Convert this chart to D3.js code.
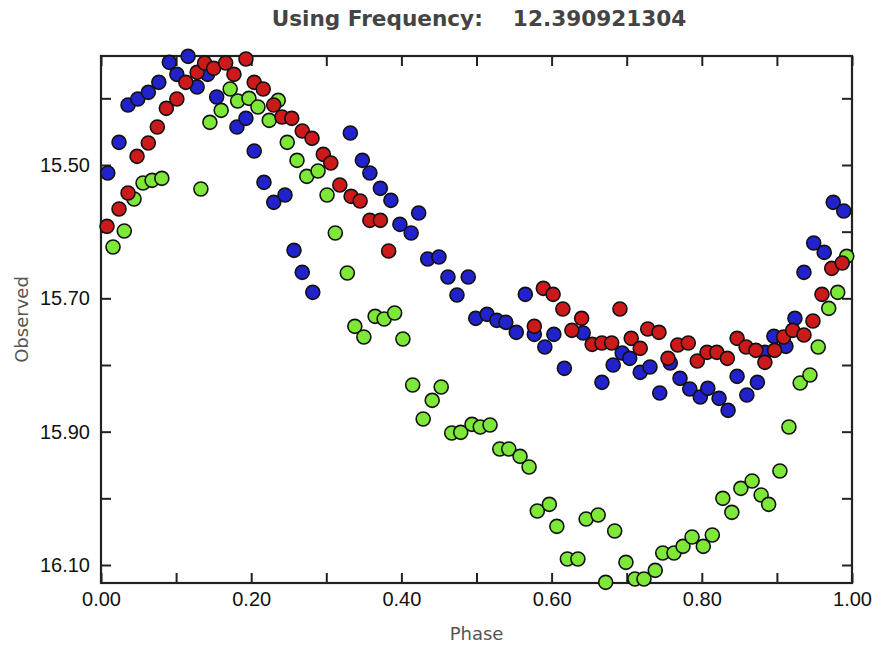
<!DOCTYPE html>
<html>
<head>
<meta charset="utf-8">
<script src="https://cdnjs.cloudflare.com/ajax/libs/d3/7.8.5/d3.min.js"></script>
<style>
  body { margin: 0; background: #fff; }
  svg { font-family: "DejaVu Sans", sans-serif; }
  .axis text { fill: #111; font-size: 20px; }
  .axis line { stroke: #222; stroke-width: 2; }
</style>
</head>
<body>
<div id="chart"></div>
<script>
const titleText = "Using Frequency:    12.390921304";
const xLabel = "Phase";
const yLabel = "Observed";

const xMajor = [0.0, 0.2, 0.4, 0.6, 0.8, 1.0];
const xMinor = [0.1, 0.3, 0.5, 0.7, 0.9];
const yMajor = [15.50, 15.70, 15.90, 16.10];
const yMinor = [15.40, 15.60, 15.80, 16.00];

const bluePhase = [0.009,0.024,0.036,0.049,0.063,0.077,0.091,0.101,0.116,0.128,0.142,0.154,0.181,0.193,0.204,0.217,0.230,0.245,0.257,0.268,0.282,0.332,0.348,0.358,0.372,0.386,0.398,0.413,0.423,0.435,0.450,0.462,0.474,0.489,0.499,0.514,0.527,0.539,0.553,0.565,0.577,0.591,0.603,0.617,0.642,0.667,0.682,0.694,0.704,0.718,0.731,0.744,0.758,0.771,0.784,0.798,0.808,0.823,0.835,0.847,0.860,0.874,0.884,0.896,0.912,0.924,0.936,0.949,0.963,0.975,0.989];
const blueMag = [15.512,15.466,15.410,15.401,15.391,15.376,15.346,15.364,15.337,15.383,15.364,15.398,15.443,15.430,15.479,15.526,15.556,15.545,15.628,15.661,15.691,15.452,15.493,15.512,15.535,15.553,15.589,15.602,15.572,15.641,15.638,15.668,15.695,15.668,15.730,15.724,15.733,15.736,15.751,15.694,15.754,15.773,15.754,15.805,15.752,15.826,15.800,15.782,15.790,15.811,15.803,15.842,15.797,15.820,15.836,15.848,15.835,15.850,15.868,15.817,15.845,15.826,15.781,15.757,15.772,15.730,15.661,15.617,15.631,15.556,15.569];

const greenPhase = [0.016,0.031,0.044,0.056,0.068,0.081,0.133,0.145,0.160,0.172,0.182,0.197,0.209,0.224,0.236,0.248,0.261,0.274,0.289,0.301,0.312,0.328,0.338,0.350,0.365,0.377,0.391,0.402,0.415,0.429,0.441,0.453,0.467,0.479,0.494,0.505,0.518,0.531,0.543,0.558,0.570,0.581,0.597,0.607,0.621,0.635,0.646,0.662,0.672,0.684,0.699,0.711,0.723,0.738,0.748,0.763,0.775,0.787,0.802,0.814,0.828,0.840,0.852,0.867,0.879,0.889,0.904,0.916,0.931,0.944,0.955,0.969,0.981,0.993];
const greenMag = [15.623,15.599,15.551,15.527,15.523,15.520,15.536,15.436,15.418,15.386,15.404,15.400,15.413,15.433,15.403,15.466,15.493,15.517,15.509,15.545,15.602,15.662,15.742,15.758,15.727,15.731,15.722,15.761,15.830,15.881,15.853,15.833,15.902,15.901,15.889,15.893,15.890,15.926,15.926,15.937,15.953,16.019,16.009,16.042,16.091,16.091,16.031,16.025,16.126,16.049,16.096,16.121,16.121,16.108,16.082,16.082,16.072,16.058,16.072,16.055,16.000,16.021,15.985,15.974,15.995,16.009,15.959,15.893,15.827,15.815,15.773,15.715,15.691,15.637];

const redPhase = [0.008,0.024,0.036,0.048,0.063,0.075,0.087,0.101,0.113,0.128,0.138,0.150,0.166,0.177,0.193,0.204,0.216,0.230,0.241,0.254,0.268,0.281,0.296,0.306,0.318,0.333,0.345,0.358,0.372,0.383,0.577,0.589,0.602,0.615,0.627,0.640,0.654,0.667,0.680,0.691,0.706,0.718,0.728,0.743,0.755,0.768,0.782,0.794,0.807,0.820,0.834,0.847,0.859,0.872,0.884,0.897,0.909,0.921,0.936,0.948,0.960,0.973,0.987];
const redMag = [15.592,15.566,15.542,15.487,15.467,15.443,15.415,15.401,15.376,15.361,15.347,15.355,15.347,15.364,15.341,15.376,15.386,15.410,15.428,15.430,15.449,15.460,15.484,15.497,15.530,15.547,15.554,15.583,15.583,15.629,15.742,15.685,15.694,15.716,15.748,15.730,15.769,15.767,15.767,15.716,15.760,15.775,15.746,15.751,15.790,15.770,15.767,15.794,15.781,15.781,15.790,15.760,15.773,15.778,15.796,15.778,15.758,15.748,15.755,15.734,15.694,15.655,15.647];

const width = 884, height = 646;
const margin = { top: 56, right: 32, bottom: 63, left: 101 };

const series = [
    { phase: bluePhase, mag: blueMag, color: "#2222cc" },
    { phase: greenPhase, mag: greenMag, color: "#7de838" },
    { phase: redPhase, mag: redMag, color: "#cc1a1a" }
];

const svg = d3.select("#chart")
    .append("svg")
    .attr("width", width)
    .attr("height", height);

const x = d3.scaleLinear()
    .domain([0, 1])
    .range([margin.left, width - margin.right]);

const y = d3.scaleLinear()
    .domain([15.3365, 16.127])
    .range([margin.top, height - margin.bottom]);

const fmt = d3.format(".2f");
const tickLen = 10;

// frame
svg.append("rect")
    .attr("x", x(0))
    .attr("y", y.range()[0])
    .attr("width", x(1) - x(0))
    .attr("height", y.range()[1] - y.range()[0])
    .attr("fill", "none")
    .attr("stroke", "#222")
    .attr("stroke-width", 2.2);

// axes: ticks point inward, labels only on the major ones
function addAxis(axisFn, scale, values, labels, transform, pad) {
    const g = svg.append("g")
        .attr("class", "axis")
        .attr("transform", transform)
        .call(axisFn(scale)
            .tickValues(values)
            .tickSizeInner(-tickLen)
            .tickSizeOuter(0)
            .tickPadding(pad)
            .tickFormat(labels ? fmt : () => ""));
    g.select(".domain").remove();
    return g;
}

const bottomY = y.range()[1], topY = y.range()[0];
addAxis(d3.axisBottom, x, xMajor, true, `translate(0,${bottomY})`, 9);
addAxis(d3.axisBottom, x, xMinor, false, `translate(0,${bottomY})`, 9);
addAxis(d3.axisTop, x, xMajor.concat(xMinor), false, `translate(0,${topY})`, 9);

addAxis(d3.axisLeft, y, yMajor, true, `translate(${x(0)},0)`, 11);
addAxis(d3.axisLeft, y, yMinor, false, `translate(${x(0)},0)`, 11);
addAxis(d3.axisRight, y, yMajor.concat(yMinor), false, `translate(${x(1)},0)`, 11);

// points, drawn over the frame
series.forEach(function(s) {
    svg.append("g")
        .selectAll("circle")
        .data(s.phase.map((p, i) => [p, s.mag[i]]))
        .enter()
        .append("circle")
        .attr("cx", d => x(d[0]))
        .attr("cy", d => y(d[1]))
        .attr("r", 7)
        .attr("fill", s.color)
        .attr("stroke", "#111")
        .attr("stroke-width", 1.6);
});

// title
svg.append("text")
    .attr("x", 479)
    .attr("y", 26)
    .attr("text-anchor", "middle")
    .attr("font-size", 21.6)
    .attr("font-weight", "bold")
    .attr("fill", "#444")
    .style("white-space", "pre")
    .text(titleText);

svg.append("text")
    .attr("x", (x(0) + x(1)) / 2)
    .attr("y", 640)
    .attr("text-anchor", "middle")
    .attr("font-size", 18)
    .attr("fill", "#555")
    .text(xLabel);

svg.append("text")
    .attr("transform", `translate(28,${(y.range()[0] + y.range()[1]) / 2}) rotate(-90)`)
    .attr("text-anchor", "middle")
    .attr("font-size", 18)
    .attr("fill", "#555")
    .text(yLabel);
</script>
</body>
</html>
